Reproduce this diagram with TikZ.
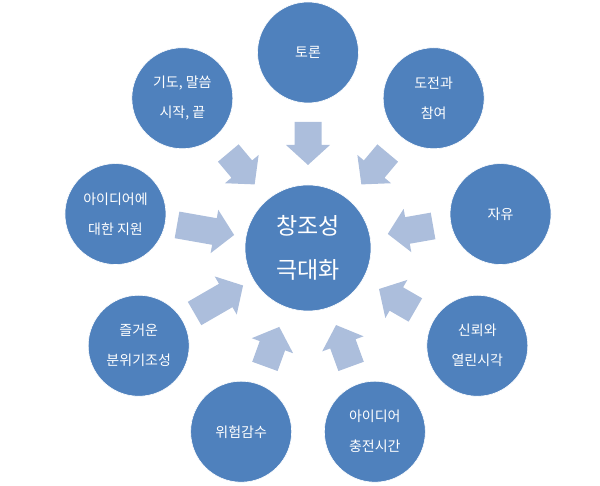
\documentclass[tikz,border=0pt]{standalone}
\usepackage{fontspec}
\newfontfamily\kr{Noto Sans CJK KR}
\usetikzlibrary{calc}
\definecolor{circblue}{HTML}{4F81BD}
\definecolor{arrowblue}{HTML}{ACBEDC}
\tikzset{
  outer/.style={circle, fill=circblue, draw=white, line width=0.6pt, minimum size=101pt, inner sep=0pt,
    text=white, align=center, font={\kr\fontsize{14}{30}\selectfont}},
  center/.style={circle, fill=circblue, draw=white, line width=0.6pt, minimum size=126pt, inner sep=0pt,
    text=white, align=center, font={\kr\fontsize{23}{44}\selectfont}},
  blockarrow/.style={fill=arrowblue}
}
% #1 angle, #2 tip radius, #3 tail radius
\newcommand{\radarrow}[3]{%
  \begin{scope}[shift={(c)}, rotate=#1]
    \fill[blockarrow] (#2,0) -- (#2+20,22) -- (#2+20,13.5) -- (#3,13.5) -- (#3,-13.5)
      -- (#2+20,-13.5) -- (#2+20,-22) -- cycle;
  \end{scope}}
\begin{document}
\begin{tikzpicture}[x=1pt,y=1pt]
\useasboundingbox (0,0) rectangle (600,486);
\node[center] (c) at (308,238) {창조성\\극대화};
\node[outer] (o1) at ($(c)+(90:195.5)$) {토론};
\node[outer] (o2) at ($(c)+(50:195.5)$) {도전과\\참여};
\node[outer] (o3) at ($(c)+(10:195.5)$) {자유};
\node[outer] (o4) at ($(c)+(-30:195.5)$) {신뢰와\\열린시각};
\node[outer] (o5) at ($(c)+(-70:195.5)$) {아이디어\\충전시간};
\node[outer] (o6) at ($(c)+(-110:195.5)$) {위험감수};
\node[outer] (o7) at ($(c)+(-150:195.5)$) {즐거운\\분위기조성};
\node[outer] (o8) at ($(c)+(170:195.5)$) {아이디어에\\대한 지원};
\node[outer] (o9) at ($(c)+(130:195.5)$) {기도, 말씀\\시작, 끝};
\radarrow{90}{83}{126}
\radarrow{50}{83}{124}
\radarrow{10}{81}{127}
\radarrow{-30}{82}{124}
\radarrow{-70}{82}{126}
\radarrow{-110}{84}{126}
\radarrow{-150}{75}{131}
\radarrow{170}{75}{133}
\radarrow{130}{83}{124}
\end{tikzpicture}
\end{document}
